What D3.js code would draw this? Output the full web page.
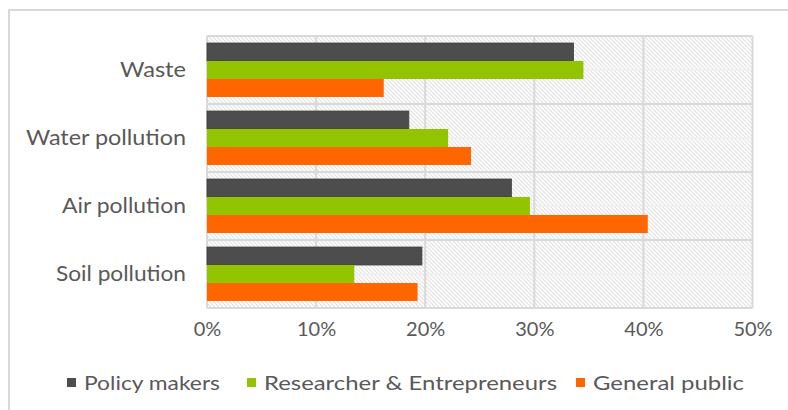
<!DOCTYPE html>
<html>
<head>
<meta charset="utf-8">
<script src="https://cdn.jsdelivr.net/npm/d3@7"></script>
<style>
  html, body { margin: 0; padding: 0; background: #fff; }
  svg { display: block; }
  text { font-family: "Century Gothic", Lato, "DejaVu Sans", sans-serif; fill: #595959; }
</style>
</head>
<body>
<svg id="chart" width="788" height="410"></svg>
<script>
// Share of respondents naming each environmental issue, by stakeholder group
const categories = ["Waste", "Water pollution", "Air pollution", "Soil pollution"];
const seriesNames = ["Policy makers", "Researcher & Entrepreneurs", "General public"];
const policyMakers = [0.336, 0.185, 0.279, 0.197];
const researchers = [0.345, 0.221, 0.296, 0.135];
const generalPublic = [0.162, 0.242, 0.404, 0.193];
const tickValues = [0, 0.1, 0.2, 0.3, 0.4, 0.5];
const colors = ["#4d4d4d", "#92c500", "#ff6600"];

const series = [policyMakers, researchers, generalPublic];

// rendered widths of the wide geometric label face
const categoryLabelWidth = { "Waste": 66, "Water pollution": 160, "Air pollution": 124, "Soil pollution": 130 };
const legendLabelWidth = [136, 293, 151];

const svg = d3.select("#chart");
const W = 788, H = 410;
const plot = { left: 207, right: 752.5, top: 36, bottom: 308 };

// chart frame
svg.append("rect")
  .attr("x", 9).attr("y", 10).attr("width", W + 20).attr("height", H + 20)
  .attr("fill", "#fff").attr("stroke", "#d9d9d9").attr("stroke-width", 2);

// diagonal hatch for the plot background
const defs = svg.append("defs");
const pat = defs.append("pattern")
  .attr("id", "hatch").attr("patternUnits", "userSpaceOnUse")
  .attr("width", 4).attr("height", 4);
pat.append("rect").attr("width", 4).attr("height", 4).attr("fill", "#fff");
pat.append("path")
  .attr("d", "M-1,-1 L5,5 M-1,3 L1,5 M3,-1 L5,1")
  .attr("stroke", "#e2e2e2").attr("stroke-width", 1.2);

const x = d3.scaleLinear().domain([0, 0.5]).range([plot.left, plot.right]);
const y = d3.scaleBand().domain(categories).range([plot.top, plot.bottom]).padding(0);
const yInner = d3.scaleBand().domain(d3.range(series.length))
  .range([0, y.bandwidth()]).paddingInner(0).paddingOuter(0.39);

svg.append("rect")
  .attr("x", plot.left).attr("y", plot.top)
  .attr("width", plot.right - plot.left).attr("height", plot.bottom - plot.top)
  .attr("fill", "url(#hatch)");

// lighter lines through the middle of each category
svg.append("g").selectAll("line").data(categories).join("line")
  .attr("x1", plot.left).attr("x2", plot.right)
  .attr("y1", d => y(d) + y.bandwidth() / 2).attr("y2", d => y(d) + y.bandwidth() / 2)
  .attr("stroke", "#f0f0f0").attr("stroke-width", 2);

// category boundaries
const bounds = categories.map(c => y(c)).concat([plot.bottom]);
svg.append("g").selectAll("line").data(bounds).join("line")
  .attr("x1", plot.left).attr("x2", plot.right)
  .attr("y1", d => d).attr("y2", d => d)
  .attr("stroke", "#d9d9d9").attr("stroke-width", 2);

// value gridlines
svg.append("g").selectAll("line").data(tickValues).join("line")
  .attr("x1", d => x(d)).attr("x2", d => x(d))
  .attr("y1", plot.top).attr("y2", plot.bottom)
  .attr("stroke", "#d9d9d9").attr("stroke-width", 2);

// bars
const groups = svg.append("g").selectAll("g").data(categories).join("g")
  .attr("transform", d => `translate(0,${y(d)})`);
groups.selectAll("rect")
  .data((c, ci) => series.map((s, si) => ({ si, v: s[ci] })))
  .join("rect")
  .attr("x", x(0))
  .attr("y", d => yInner(d.si))
  .attr("width", d => x(d.v) - x(0))
  .attr("height", yInner.bandwidth())
  .attr("fill", d => colors[d.si])
  .attr("stroke", d => d.si === 0 ? "#404040" : "none")
  .attr("stroke-width", 0.8);

// category labels
const yAxis = d3.axisLeft(y).tickSize(0).tickPadding(21);
svg.append("g").attr("transform", `translate(${plot.left},0)`).call(yAxis)
  .call(g => g.select(".domain").remove())
  .selectAll("text")
  .style("font-size", "21px").attr("fill", "#595959")
  .style("font-family", "\"Century Gothic\", Lato, sans-serif")
  .attr("textLength", d => categoryLabelWidth[d])
  .attr("lengthAdjust", "spacingAndGlyphs");

// value axis labels
const xAxis = d3.axisBottom(x).tickValues(tickValues).tickFormat(d3.format(".0%")).tickSize(0).tickPadding(14);
svg.append("g").attr("transform", `translate(0,${plot.bottom})`).call(xAxis)
  .call(g => g.select(".domain").remove())
  .selectAll("text")
  .style("font-size", "20px").attr("fill", "#595959")
  .style("font-family", "\"Century Gothic\", Lato, sans-serif");

// legend
const legendX = [67, 247, 576];
const legend = svg.append("g").selectAll("g").data(seriesNames).join("g")
  .attr("transform", (d, i) => `translate(${legendX[i]},383)`);
legend.append("rect")
  .attr("x", 0).attr("y", -5).attr("width", 9).attr("height", 9)
  .attr("fill", (d, i) => colors[i]);
legend.append("text")
  .attr("x", 17).attr("y", 0).attr("dy", "0.35em")
  .style("font-size", "20px")
  .attr("textLength", (d, i) => legendLabelWidth[i])
  .attr("lengthAdjust", "spacingAndGlyphs")
  .text(d => d);
</script>
</body>
</html>
